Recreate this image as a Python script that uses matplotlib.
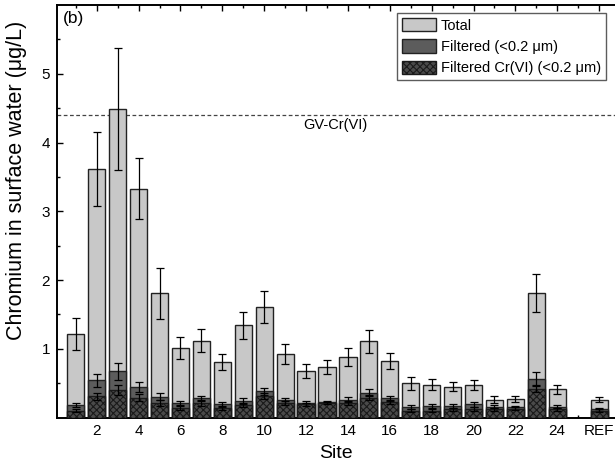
import matplotlib
matplotlib.use("Agg")
import matplotlib.pyplot as plt
import numpy as np
from matplotlib.patches import Patch

plt.rcParams['font.family'] = ['Liberation Sans', 'DejaVu Sans']
plt.rcParams['hatch.linewidth'] = 0.8

sites = [str(i) for i in range(1, 25)] + ["REF"]
positions = list(range(1, 25)) + [26]

total = [1.21, 3.61, 4.49, 3.33, 1.81, 1.01, 1.12, 0.81, 1.34, 1.61, 0.93, 0.68, 0.74,
         0.88, 1.11, 0.82, 0.50, 0.48, 0.45, 0.47, 0.26, 0.27, 1.81, 0.41, 0.26]
total_err = [0.235, 0.54, 0.885, 0.445, 0.37, 0.16, 0.17, 0.12, 0.20, 0.235, 0.145, 0.105, 0.10,
             0.135, 0.165, 0.115, 0.095, 0.08, 0.07, 0.07, 0.05, 0.05, 0.275, 0.065, 0.04]
filtered = [0.18, 0.54, 0.67, 0.44, 0.30, 0.21, 0.28, 0.19, 0.24, 0.38, 0.25, 0.21, 0.22,
            0.26, 0.36, 0.28, 0.15, 0.17, 0.17, 0.19, 0.16, 0.15, 0.56, 0.16, 0.12]
filtered_err = [0.03, 0.10, 0.13, 0.075, 0.05, 0.03, 0.04, 0.03, 0.04, 0.05, 0.04, 0.03, 0.02,
                0.04, 0.05, 0.04, 0.03, 0.03, 0.03, 0.04, 0.02, 0.02, 0.10, 0.02, 0.02]
crvi = [0.10, 0.31, 0.40, 0.29, 0.21, 0.14, 0.21, 0.14, 0.18, 0.31, 0.21, 0.19, 0.21,
        0.21, 0.29, 0.23, 0.10, 0.10, 0.12, 0.13, 0.12, 0.13, 0.42, 0.12, 0.10]
crvi_err = [0.02, 0.05, 0.07, 0.05, 0.04, 0.03, 0.04, 0.03, 0.03, 0.04, 0.03, 0.02, 0.02,
            0.03, 0.04, 0.03, 0.02, 0.02, 0.02, 0.03, 0.02, 0.02, 0.05, 0.02, 0.02]

xtick_pos = [2, 4, 6, 8, 10, 12, 14, 16, 18, 20, 22, 24, 26]
xtick_labels = ["2", "4", "6", "8", "10", "12", "14", "16", "18", "20", "22", "24", "REF"]
guideline = 4.4

fig = plt.figure(figsize=(6.15, 4.66), dpi=100)
ax = fig.add_axes([57/615, 1 - 417.5/466, 1 - 57/615, (417.5 - 5)/466])

w = 0.82
c_total = '#c8c8c8'
c_filt = '#5c5c5c'
c_cr = '#4a4a4a'
ek = dict(ecolor='black', capsize=2.8, elinewidth=0.9, capthick=0.9)

ax.bar(positions, total, w, color=c_total, edgecolor='#222222', linewidth=1.0,
       yerr=total_err, error_kw=ek, zorder=2)
ax.bar(positions, filtered, w, color=c_filt, edgecolor='#222222', linewidth=1.0,
       yerr=filtered_err, error_kw=ek, zorder=3)
ax.bar(positions, crvi, w, color=c_cr, edgecolor='#1a1a1a', linewidth=1.0, hatch='xxxxx',
       yerr=crvi_err, error_kw=ek, zorder=4)

ax.axhline(guideline, color='#444444', linestyle=(0, (3, 2)), linewidth=0.9, zorder=1)
ax.text(11.85, guideline - 0.05, "GV-Cr(VI)", ha='left', va='top', fontsize=10.5)
ax.text(0.4, 5.92, "(b)", ha='left', va='top', fontsize=12.5)

ax.set_xlim(0.1, 26.76)
ax.set_ylim(0, 6)
ax.set_xticks(xtick_pos)
ax.set_xticklabels(xtick_labels)
ax.set_xticks([1, 3, 5, 7, 9, 11, 13, 15, 17, 19, 21, 23, 25], minor=True)
ax.set_yticks([1, 2, 3, 4, 5])
ax.set_yticks([0.5, 1.5, 2.5, 3.5, 4.5, 5.5], minor=True)
ax.tick_params(axis='both', which='major', direction='in', length=4, width=1,
               labelsize=11, top=True, right=False, pad=5)
ax.tick_params(axis='both', which='minor', direction='in', length=2.5, width=1,
               top=True, right=False)
for s in ax.spines.values():
    s.set_linewidth(1.4)
ax.spines['right'].set_visible(False)

ax.set_xlabel("Site", fontsize=14, labelpad=5)
ax.set_ylabel("Chromium in surface water (μg/L)", fontsize=15.5, va='center')
ax.yaxis.set_label_coords(-0.0717, 0.576)

handles = [Patch(facecolor=c_total, edgecolor='#222222', label='Total'),
           Patch(facecolor=c_filt, edgecolor='#222222', label='Filtered (<0.2 μm)'),
           Patch(facecolor=c_cr, edgecolor='#1a1a1a', hatch='xxxxx', label='Filtered Cr(VI) (<0.2 μm)')]
leg = ax.legend(handles=handles, loc='upper right', bbox_to_anchor=(0.984, 0.981),
                fontsize=10.5, frameon=True, fancybox=False, handlelength=2.3,
                handleheight=1.05, handletextpad=0.35, borderpad=0.35, labelspacing=0.45,
                borderaxespad=0)
leg.get_frame().set_edgecolor('#333333')
leg.get_frame().set_linewidth(1.0)

fig.savefig("out.png", dpi=100)
